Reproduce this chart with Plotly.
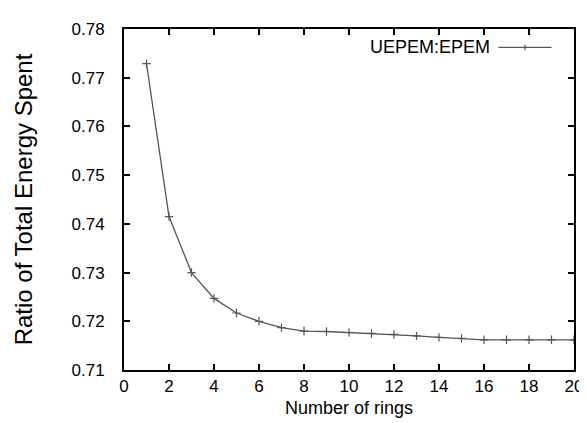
import plotly.graph_objects as go

rings = list(range(1, 21))
ratio = [0.7729, 0.7415, 0.7300, 0.7247, 0.7217, 0.7200, 0.7187, 0.7180, 0.7179, 0.7177,
         0.7175, 0.7173, 0.7170, 0.7167, 0.7165, 0.7162, 0.7162, 0.7162, 0.7162, 0.7162]
series_name = "UEPEM:EPEM"
x_ticks = list(range(0, 21, 2))
y_ticks = [0.71, 0.72, 0.73, 0.74, 0.75, 0.76, 0.77, 0.78]

fig = go.Figure()
fig.add_trace(go.Scatter(
    x=rings, y=ratio, mode="lines+markers", name=series_name,
    line=dict(color="#555555", width=1.3),
    marker=dict(symbol="cross-thin", size=6, line=dict(color="#555555", width=1.2)),
    showlegend=False,
))

font_family = "Liberation Sans, Arial, sans-serif"
axis_common = dict(showgrid=False, zeroline=False, showline=True, linecolor="black",
                   linewidth=2, mirror="ticks", ticks="inside", ticklen=6,
                   tickcolor="black", tickwidth=1.5,
                   tickfont=dict(family=font_family, size=17, color="black"))

fig.update_xaxes(range=[0, 20], tickvals=x_ticks,
                 title=dict(text="Number of rings", font=dict(family=font_family, size=18, color="black"), standoff=6),
                 **axis_common)
fig.update_yaxes(range=[0.71, 0.78], tickvals=y_ticks, tickformat=".2f",
                 ticklabelstandoff=14,
                 title=dict(text="Ratio of Total Energy Spent", font=dict(family=font_family, size=24, color="black"), standoff=32),
                 **axis_common)

# gnuplot-style legend: text left of sample
fig.add_annotation(xref="paper", yref="paper", x=0.818, y=0.946, text=series_name,
                   showarrow=False, xanchor="right", yanchor="middle",
                   font=dict(family=font_family, size=18, color="black"))
fig.add_shape(type="line", xref="paper", yref="paper", x0=0.832, x1=0.950, y0=0.946, y1=0.946,
              line=dict(color="#555555", width=1.3))
fig.add_shape(type="line", xref="paper", yref="paper", x0=0.891, x1=0.891, y0=0.938, y1=0.954,
              line=dict(color="#555555", width=1.2))

fig.update_layout(
    width=587, height=423,
    margin=dict(l=116, r=12, t=13, b=61),
    paper_bgcolor="white", plot_bgcolor="white",
    font=dict(family=font_family, color="black"),
)

fig.write_html("out.html")
